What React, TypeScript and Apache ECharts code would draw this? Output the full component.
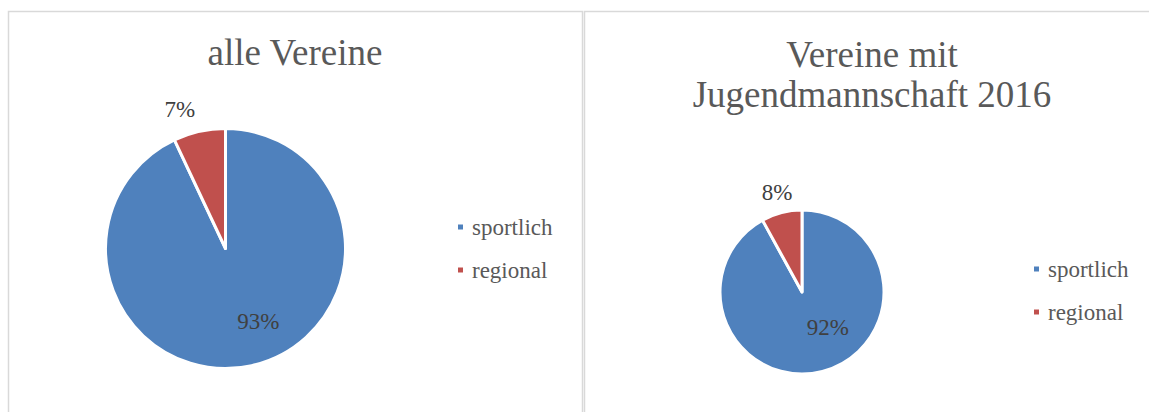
import React, { useEffect, useRef } from "react";
import * as echarts from "echarts";

const categories = ["sportlich", "regional"];
const allClubsValues = [93, 7];
const youthClubsValues = [92, 8];
const chartTitles = ["alle Vereine", "Vereine mit\nJugendmannschaft 2016"];
const sliceColors = ["#4F81BD", "#C0504D"];

const FONT = "Liberation Serif";

export default function App() {
  const ref = useRef<HTMLDivElement>(null);

  useEffect(() => {
    if (!ref.current) return;
    const chart = echarts.init(ref.current, undefined, { renderer: "svg" });

    const labelStyle = {
      show: true,
      position: "inside",
      formatter: "{c}%",
      color: "#404040",
      fontFamily: FONT,
      fontSize: 23,
    };

    const makeData = (values: number[], offsets: number[][]) =>
      categories.map((name, i) => ({
        name,
        value: values[i],
        label: { ...labelStyle, offset: offsets[i] },
      }));

    const legendCommon = {
      orient: "vertical",
      icon: "rect",
      itemWidth: 7,
      itemHeight: 7,
      itemGap: 19,
      data: categories,
      textStyle: {
        color: "#595959",
        fontFamily: FONT,
        fontSize: 23,
        lineHeight: 24,
        padding: [0, 0, 0, 3],
      },
    };

    chart.setOption({
      animation: false,
      color: sliceColors,
      textStyle: { fontFamily: FONT },
      title: [
        {
          text: chartTitles[0],
          left: 290,
          top: 29,
          textAlign: "center",
          textStyle: { color: "#595959", fontFamily: FONT, fontSize: 37, fontWeight: "normal" },
        },
        {
          text: chartTitles[1],
          left: 867,
          top: 29,
          textAlign: "center",
          textStyle: {
            color: "#595959",
            fontFamily: FONT,
            fontSize: 37,
            fontWeight: "normal",
            lineHeight: 40,
          },
        },
      ],
      legend: [
        { ...legendCommon, left: 451, top: 210 },
        { ...legendCommon, left: 1027, top: 252 },
      ],
      graphic: [
        {
          type: "rect",
          shape: { x: 8.5, y: 11.5, width: 574, height: 420 },
          style: { fill: "none", stroke: "#d9d9d9", lineWidth: 1.5 },
          silent: true,
        },
        {
          type: "rect",
          shape: { x: 584.5, y: 11.5, width: 580, height: 420 },
          style: { fill: "none", stroke: "#d9d9d9", lineWidth: 1.5 },
          silent: true,
        },
      ],
      series: [
        {
          type: "pie",
          center: [225.5, 248.5],
          radius: 120,
          startAngle: 90,
          clockwise: true,
          avoidLabelOverlap: false,
          labelLine: { show: false },
          itemStyle: { borderColor: "#ffffff", borderWidth: 3 },
          emphasis: { disabled: true },
          data: makeData(allClubsValues, [
            [19, 12],
            [-32, -78],
          ]),
        },
        {
          type: "pie",
          center: [802, 292],
          radius: 82,
          startAngle: 90,
          clockwise: true,
          avoidLabelOverlap: false,
          labelLine: { show: false },
          itemStyle: { borderColor: "#ffffff", borderWidth: 3 },
          emphasis: { disabled: true },
          data: makeData(youthClubsValues, [
            [15, -7],
            [-14, -57],
          ]),
        },
      ],
    });

    return () => chart.dispose();
  }, []);

  return (
    <div
      ref={ref}
      style={{ position: "fixed", left: 0, top: 0, width: 1149, height: 412, background: "#ffffff" }}
    />
  );
}
